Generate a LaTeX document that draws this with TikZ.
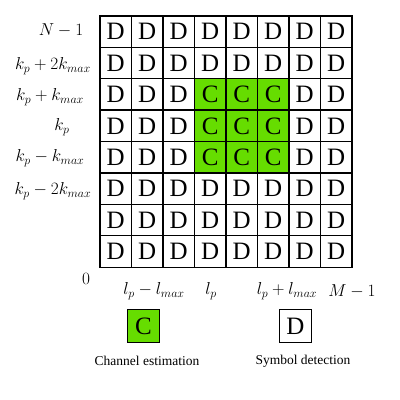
\documentclass[tikz,border=0pt]{standalone}
\usepackage{fontspec}
\setmainfont{Liberation Serif}
\definecolor{cgreen}{RGB}{102,221,0}
\begin{document}
\begin{tikzpicture}[x=1pt,y=-1pt,
  cell/.style={draw=black,line width=1.4pt,minimum size=31.5pt,inner sep=0pt,font=\fontsize{25}{25}\selectfont},
  dcell/.style={cell,fill=white},
  ccell/.style={cell,fill=cgreen},
  lab/.style={font=\fontsize{17}{17}\selectfont,inner sep=0pt},
  leg/.style={font=\fontsize{13.5}{14}\selectfont,inner sep=0pt}]
\useasboundingbox (0,0) rectangle (400,400);
\foreach \r in {0,...,7}{
  \foreach \c in {0,...,7}{
    \pgfmathtruncatemacro{\isC}{(\r>=2)&&(\r<=4)&&(\c>=3)&&(\c<=5)}
    \ifnum\isC=1
      \node[ccell] (g-\r-\c) at ({100+31.5*\c+15.75},{16+31.4*\r+15.7}) {C};
    \else
      \node[dcell] (g-\r-\c) at ({100+31.5*\c+15.75},{16+31.4*\r+15.7}) {D};
    \fi
  }
}
\node[lab] (n1) at (61,30) {$N-1$};
\node[lab] (r1) at (53,66) {$k_p+2k_{max}$};
\node[lab] (r2) at (50,97) {$k_p+k_{max}$};
\node[lab] (r3) at (62,127) {$k_p$};
\node[lab] (r4) at (50,158) {$k_p-k_{max}$};
\node[lab] (r5) at (53,191) {$k_p-2k_{max}$};
\node[lab] (z) at (86,279) {$0$};
\node[lab] (b1) at (154,291) {$l_p-l_{max}$};
\node[lab] (b2) at (211,291) {$l_p$};
\node[lab] (b3) at (287,291) {$l_p+l_{max}$};
\node[lab] (b4) at (352,291) {$M-1$};
\node[ccell,minimum size=32.5pt] (legc) at (143.5,326) {C};
\node[dcell,minimum size=32.5pt] (legd) at (295.5,326) {D};
\node[leg] (legct) at (147,361) {Channel estimation};
\node[leg] (legdt) at (303,361) {Symbol detection};
\end{tikzpicture}
\end{document}
